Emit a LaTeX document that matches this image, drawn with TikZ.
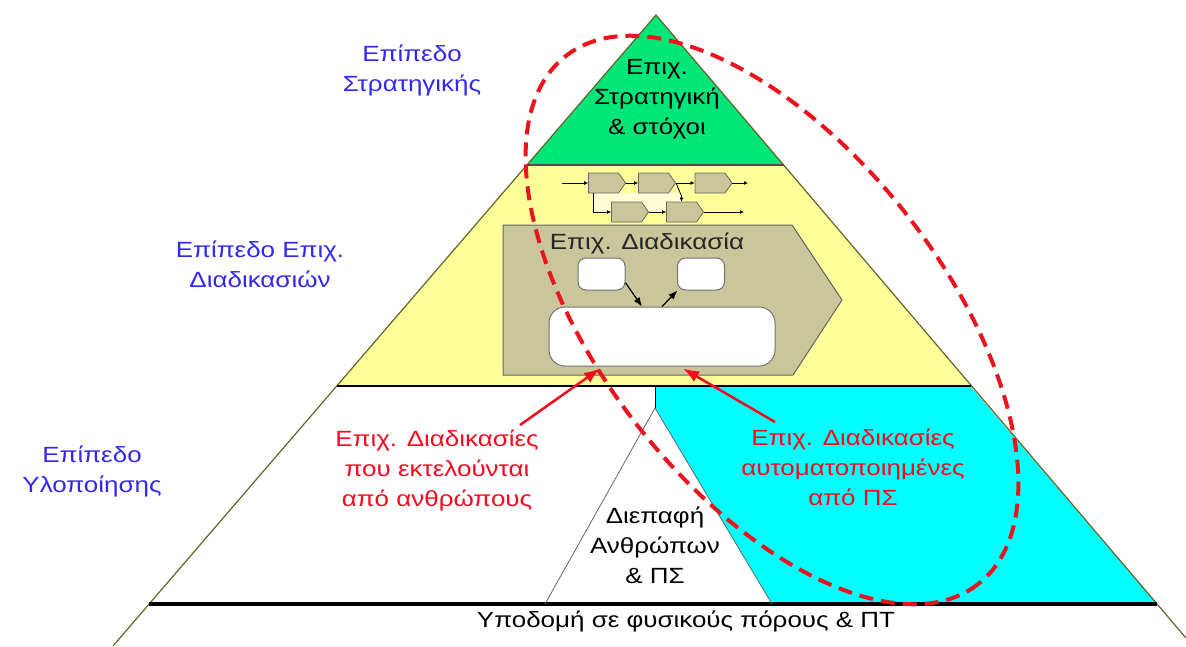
\documentclass[tikz,border=0pt]{standalone}
\usepackage{fontspec}
\setmainfont{Liberation Sans}
\usetikzlibrary{arrows.meta,shapes.symbols}
\definecolor{lvlblue}{RGB}{51,40,240}
\definecolor{redtxt}{RGB}{245,10,30}
\definecolor{dashred}{RGB}{235,20,30}
\definecolor{stratgreen}{RGB}{0,230,120}
\definecolor{procyellow}{RGB}{255,255,153}
\definecolor{autocyan}{RGB}{0,255,255}
\definecolor{khaki}{RGB}{200,198,154}
\definecolor{pyrolive}{RGB}{100,100,40}
\definecolor{lightyel}{RGB}{255,255,215}
\begin{document}
\begin{tikzpicture}[x=1pt,y=-1pt,
  lbl/.style={align=center, font=\fontsize{22}{30}\selectfont, xscale=1.18, inner sep=0pt},
  minibox/.style={signal, signal to=east, signal pointer angle=110, draw=black!60, fill=khaki,
    line width=0.8, minimum width=37, minimum height=20, inner sep=0pt},
  rbox/.style={draw=black!55, fill=white, line width=1, inner sep=0pt},
  flow/.style={line width=0.8, -{Latex[length=4,width=4]}},
  blackarr/.style={line width=1.2, -{Latex[length=9,width=7]}},
  redarr/.style={draw=redtxt, line width=2.5, -{Latex[length=16,width=12]}},
  ]
\useasboundingbox (0,0) rectangle (1186,646);
% fills
\fill[stratgreen] (656,15) -- (527,165) -- (784,165) -- cycle;
\fill[procyellow] (527,165) -- (784,165) -- (971,386) -- (337,386) -- cycle;
\fill[autocyan] (655,387) -- (971,387) -- (1157,604) -- (772,604) -- (655,408) -- cycle;
% pyramid lines
\draw[pyrolive, line width=1.2] (113,646) -- (656,15) -- (1186,638);
\draw[black!70, line width=1.5] (527,165) -- (784,165);
\draw[line width=1.8] (337,386) -- (971,386);
\draw[line width=3.5] (149,604) -- (1157,604);
\draw[black!60, line width=0.8] (545,604) -- (655,408) -- (772,604);
\draw[line width=0.8] (655,387) -- (655,408);
% mini flowchart
\fill[lightyel] (593,193) rectangle (681,212);
\node[minibox] (b1) at (603.5,183) {};
\node[minibox] (b2) at (653.5,183) {};
\node[minibox] (b3) at (710,183) {};
\node[minibox] (b4) at (626.5,212) {};
\node[minibox] (b5) at (681.5,212) {};
\coordinate (fin) at (562,183);
\coordinate (fout1) at (748,183);
\coordinate (fout2) at (744,212);
\coordinate (bj) at (681.5,196);
\draw[flow] (fin) -- (b1.west);
\draw[flow] (b1.east) -- (b2.west);
\draw[flow] (b2.east) -- (b3.west);
\draw[flow] (b3.east) -- (fout1);
\draw[flow] ([xshift=-10.5pt]b1.south) |- (b4.west);
\draw[flow] (b2.east) -- (bj) -- (b5.north);
\draw[flow] (b4.east) -- (b5.west);
\draw[flow] (b5.east) -- (fout2);
% business process
\draw[draw=black!60, fill=khaki, line width=1] (503,225) -- (792,225) -- (842,300) -- (793,375) -- (503,375) -- cycle;
\node[lbl, text=black!85] (ptitle) at (647,243) {Επιχ. Διαδικασία};
\node[rbox, rounded corners=8, minimum width=47, minimum height=32] (s1) at (601.5,274) {};
\node[rbox, rounded corners=8, minimum width=47, minimum height=32] (s2) at (701,274) {};
\node[rbox, rounded corners=16, minimum width=226, minimum height=59] (big) at (662,336.5) {};
\draw[blackarr] (s1.-20) -- ([xshift=-20pt]big.north);
\draw[blackarr] (big.north) -- (s2.215);
% texts
\node[lbl, text=lvlblue] (lvl1) at (412,70) {Επίπεδο\\Στρατηγικής};
\node[lbl, text=lvlblue] (lvl2) at (260,264) {Επίπεδο Επιχ.\\Διαδικασιών};
\node[lbl, text=lvlblue] (lvl3) at (92,471) {Επίπεδο\\Υλοποίησης};
\node[lbl] (strat) at (657,99) {Επιχ.\\Στρατηγική\\\& στόχοι};
\node[lbl, text=redtxt] (human) at (437,470) {Επιχ. Διαδικασίες\\που εκτελούνται\\από ανθρώπους};
\node[lbl, text=redtxt] (auto) at (853,467) {Επιχ. Διαδικασίες\\αυτοματοποιημένες\\από ΠΣ};
\node[lbl] (iface) at (655,545) {Διεπαφή\\Ανθρώπων\\\& ΠΣ};
\node[lbl] (infra) at (686,621) {Υποδομή σε φυσικούς πόρους \& ΠΤ};
% red arrows
\coordinate (hstart) at (520,425);
\coordinate (astart) at (775,422);
\draw[redarr] (hstart) -- ([xshift=-62pt,yshift=-2pt]big.south);
\draw[redarr] (astart) -- ([xshift=21pt,yshift=-2pt]big.south);
% dashed ellipse
\draw[dashred, line width=4, dash pattern=on 14pt off 8pt, rotate around={-52:(772,320)}] (772,320) ellipse [x radius=335, y radius=171];
\end{tikzpicture}
\end{document}
